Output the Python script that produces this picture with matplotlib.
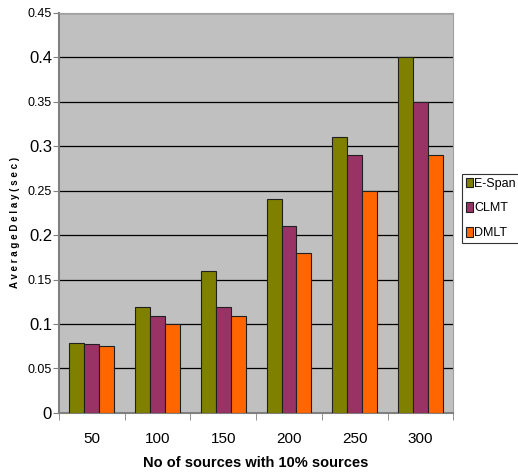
import numpy as np
import matplotlib.pyplot as plt

categories = ["50", "100", "150", "200", "250", "300"]
series_names = ["E-Span", "CLMT", "DMLT"]
espan = [0.079, 0.119, 0.16, 0.24, 0.31, 0.40]
clmt = [0.078, 0.109, 0.119, 0.21, 0.29, 0.35]
dmlt = [0.075, 0.10, 0.109, 0.18, 0.25, 0.29]
colors = ["#808000", "#993366", "#FF6600"]

fig = plt.figure(figsize=(5.18, 4.74), dpi=100)
ax = fig.add_axes([0.114, 0.129, 0.761, 0.844])
ax.set_facecolor("#C0C0C0")

x = np.arange(len(categories))
w = 0.228
for i, vals in enumerate([espan, clmt, dmlt]):
    ax.bar(x + (i - 1) * w, vals, w, color=colors[i], edgecolor="#202020",
           linewidth=0.8, label=series_names[i], zorder=3)

ax.set_xlim(-0.5, len(categories) - 0.5)
ax.set_ylim(0, 0.45)
yt = np.arange(0, 0.451, 0.05)
ax.set_yticks(yt)
ax.set_yticklabels(["0", "0.05", "0.1", "0.15", "0.2", "0.25", "0.3", "0.35", "0.4", "0.45"],
                   fontname="Liberation Sans")
big = {"0", "0.1", "0.2", "0.3", "0.4"}
for lab in ax.get_yticklabels():
    if lab.get_text() in big:
        lab.set_fontsize(12)
    else:
        lab.set_fontsize(9)
ax.yaxis.grid(True, color="black", linewidth=0.9, zorder=1)
ax.set_axisbelow(True)

ax.set_xticks(x)
ax.set_xticklabels(categories, fontsize=11, fontname="Liberation Sans")
ax.tick_params(axis="x", length=0, pad=14)
ax.set_xticks(np.arange(-0.5, len(categories)), minor=True)
ax.tick_params(axis="x", which="minor", length=5, color="#808080", direction="out")
ax.tick_params(axis="y", length=4, color="#808080", direction="out", pad=1)

for s in ["top", "right"]:
    ax.spines[s].set_color("#A0A0A0")
    ax.spines[s].set_linewidth(0.8)
for s in ["left", "bottom"]:
    ax.spines[s].set_color("#808080")
    ax.spines[s].set_linewidth(1.5)

ax.set_xlabel("No of sources with 10% sources", fontsize=10.5, fontweight="bold",
              fontname="Liberation Sans", labelpad=7)
fig.text(0.029, 0.53, "A v e r a g e D e l a y ( s e c )", rotation=90, fontsize=7,
         fontweight="bold", fontname="Liberation Sans", ha="center", va="center")

leg = fig.legend(loc="upper left", bbox_to_anchor=(0.892, 0.633), borderaxespad=0,
                 frameon=True, fancybox=False, edgecolor="black", handlelength=0.55,
                 handleheight=0.8, handletextpad=0.1, borderpad=0.3, labelspacing=1.0,
                 prop={"family": "Liberation Sans", "size": 9})
leg.get_frame().set_linewidth(0.8)

fig.savefig("out.png", dpi=100)
